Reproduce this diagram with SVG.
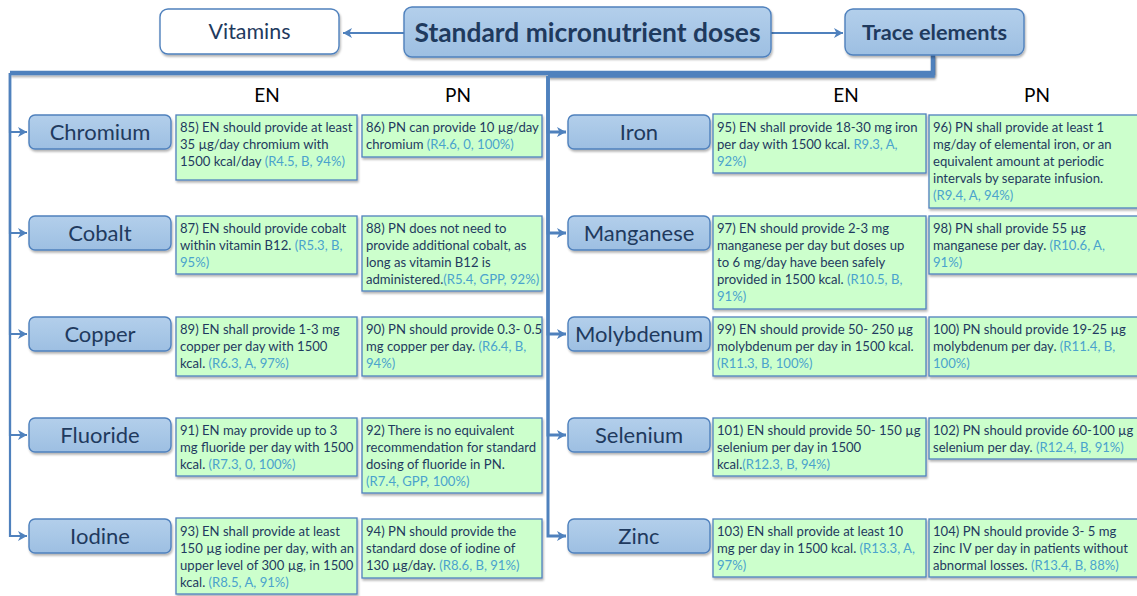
<svg xmlns="http://www.w3.org/2000/svg" width="1137" height="596" viewBox="0 0 1137 596">
<defs>
<style>
.el rect{fill:url(#gb);stroke:#4f81bd;stroke-width:1.4}
.el text{font-family:Lato,"Liberation Sans",sans-serif;font-size:22px;fill:#1f3a5e;text-anchor:middle}
.bx rect{fill:#ccffcc;stroke:#4f81bd;stroke-width:1.3}
.bx text{font-family:Lato,"Liberation Sans",sans-serif;font-size:13.1px;fill:#1f3a5f}
.c{fill:#4aa3cc}
.hd{font-family:Lato,"Liberation Sans",sans-serif;font-size:19px;fill:#000;text-anchor:middle}
.cn path{fill:none;stroke:#4f81bd;stroke-width:2.2}
.top text{font-family:Lato,"Liberation Sans",sans-serif;fill:#1f3a5e;text-anchor:middle}
</style>
<linearGradient id="gb" x1="0" y1="0" x2="0" y2="1">
<stop offset="0" stop-color="#b3cfeb"/>
<stop offset="1" stop-color="#9dbfe2"/>
</linearGradient>
<filter id="sh" x="-10%" y="-10%" width="125%" height="140%">
<feDropShadow dx="1" dy="2" stdDeviation="1.2" flood-color="#000" flood-opacity="0.3"/>
</filter>
<marker id="ar" markerUnits="userSpaceOnUse" markerWidth="12" markerHeight="12" refX="9" refY="5" orient="auto">
<path d="M0,0 L9,5 L0,10 L2.5,5 z" fill="#4f81bd"/>
</marker>
</defs>
<rect width="1137" height="596" fill="#fff"/>

<!-- connectors -->
<g id="connectors" class="cn">
<path d="M404,33 H343" marker-end="url(#ar)"/>
<path d="M771,33 H843" marker-end="url(#ar)"/>
<path d="M933,55 V73 H10" style="stroke-width:4.5" filter="url(#sh)"/>
<path d="M933,55 V76 H548" style="stroke-width:3.5" filter="url(#sh)"/>
<path d="M10,73 V132 H27" marker-end="url(#ar)"/>
<path d="M10,73 V233 H27" marker-end="url(#ar)"/>
<path d="M10,73 V334 H27" marker-end="url(#ar)"/>
<path d="M10,73 V435 H27" marker-end="url(#ar)"/>
<path d="M10,73 V536 H27" marker-end="url(#ar)"/>
<path d="M548,76 V132 H566" style="stroke-width:3" marker-end="url(#ar)"/>
<path d="M548,76 V233 H566" style="stroke-width:3" marker-end="url(#ar)"/>
<path d="M548,76 V334 H566" style="stroke-width:3" marker-end="url(#ar)"/>
<path d="M548,76 V435 H566" style="stroke-width:3" marker-end="url(#ar)"/>
<path d="M548,76 V536 H566" style="stroke-width:3" marker-end="url(#ar)"/>
</g>

<!-- top nodes -->
<g id="vitamins" class="top">
<rect x="160" y="9" width="179" height="45" rx="8" fill="#fff" stroke="#4f81bd" stroke-width="1.4" filter="url(#sh)"/>
<text x="249.5" y="39" font-size="21" textLength="82" lengthAdjust="spacingAndGlyphs">Vitamins</text>
</g>
<g id="standard" class="top">
<rect x="404" y="7" width="367" height="50" rx="8" fill="url(#gb)" stroke="#4f81bd" stroke-width="1.4" filter="url(#sh)"/>
<text x="587.5" y="42" font-size="27" font-weight="bold" textLength="346" lengthAdjust="spacingAndGlyphs">Standard micronutrient doses</text>
</g>
<g id="trace" class="top">
<rect x="845" y="9" width="179" height="46" rx="8" fill="url(#gb)" stroke="#4f81bd" stroke-width="1.4" filter="url(#sh)"/>
<text x="934.5" y="39.5" font-size="21" font-weight="bold" textLength="145" lengthAdjust="spacingAndGlyphs">Trace elements</text>
</g>

<!-- headers -->
<g id="headers">
<text class="hd" x="267" y="102">EN</text>
<text class="hd" x="458" y="102">PN</text>
<text class="hd" x="846" y="102">EN</text>
<text class="hd" x="1037" y="102">PN</text>
</g>

<!-- element nodes -->
<g id="chromium" class="el"><rect x="29" y="115" width="142" height="34" rx="6" filter="url(#sh)"/><text x="100" y="140">Chromium</text></g>
<g id="cobalt" class="el"><rect x="29" y="216" width="142" height="34" rx="6" filter="url(#sh)"/><text x="100" y="241">Cobalt</text></g>
<g id="copper" class="el"><rect x="29" y="317" width="142" height="34" rx="6" filter="url(#sh)"/><text x="100" y="342">Copper</text></g>
<g id="fluoride" class="el"><rect x="29" y="418" width="142" height="34" rx="6" filter="url(#sh)"/><text x="100" y="443">Fluoride</text></g>
<g id="iodine" class="el"><rect x="29" y="519" width="142" height="34" rx="6" filter="url(#sh)"/><text x="100" y="544">Iodine</text></g>
<g id="iron" class="el"><rect x="568" y="115" width="142" height="34" rx="6" filter="url(#sh)"/><text x="639" y="140">Iron</text></g>
<g id="manganese" class="el"><rect x="568" y="216" width="142" height="34" rx="6" filter="url(#sh)"/><text x="639" y="241">Manganese</text></g>
<g id="molybdenum" class="el"><rect x="568" y="317" width="142" height="34" rx="6" filter="url(#sh)"/><text x="639" y="342">Molybdenum</text></g>
<g id="selenium" class="el"><rect x="568" y="418" width="142" height="34" rx="6" filter="url(#sh)"/><text x="639" y="443">Selenium</text></g>
<g id="zinc" class="el"><rect x="568" y="519" width="142" height="34" rx="6" filter="url(#sh)"/><text x="639" y="544">Zinc</text></g>

<!-- recommendation boxes -->
<g id="r85" class="bx"><rect x="176" y="115" width="181" height="65" filter="url(#sh)"/>
<text><tspan x="180" y="132">85) EN should provide at least</tspan><tspan x="180" y="149">35 µg/day chromium with</tspan><tspan x="180" y="166">1500 kcal/day <tspan class="c">(R4.5, B, 94%)</tspan></tspan></text></g>
<g id="r86" class="bx"><rect x="362" y="115" width="180" height="42" filter="url(#sh)"/>
<text><tspan x="366" y="132">86) PN can provide 10 µg/day</tspan><tspan x="366" y="149">chromium  <tspan class="c">(R4.6, 0, 100%)</tspan></tspan></text></g>
<g id="r87" class="bx"><rect x="176" y="216" width="181" height="58" filter="url(#sh)"/>
<text><tspan x="180" y="233">87) EN should provide cobalt</tspan><tspan x="180" y="250">within vitamin B12. <tspan class="c">(R5.3, B,</tspan></tspan><tspan x="180" y="267" class="c">95%)</tspan></text></g>
<g id="r88" class="bx"><rect x="362" y="216" width="180" height="75" filter="url(#sh)"/>
<text><tspan x="366" y="233">88) PN does not need to</tspan><tspan x="366" y="250">provide additional cobalt, as</tspan><tspan x="366" y="267">long as vitamin B12 is</tspan><tspan x="366" y="284">administered.<tspan class="c">(R5.4, GPP, 92%)</tspan></tspan></text></g>
<g id="r89" class="bx"><rect x="176" y="317" width="181" height="59" filter="url(#sh)"/>
<text><tspan x="180" y="334">89) EN shall provide 1-3 mg</tspan><tspan x="180" y="351">copper per day with 1500</tspan><tspan x="180" y="368">kcal. <tspan class="c">(R6.3, A, 97%)</tspan></tspan></text></g>
<g id="r90" class="bx"><rect x="362" y="317" width="180" height="59" filter="url(#sh)"/>
<text><tspan x="366" y="334">90) PN should provide 0.3- 0.5</tspan><tspan x="366" y="351">mg copper per day. <tspan class="c">(R6.4, B,</tspan></tspan><tspan x="366" y="368" class="c">94%)</tspan></text></g>
<g id="r91" class="bx"><rect x="176" y="418" width="181" height="58" filter="url(#sh)"/>
<text><tspan x="180" y="435">91) EN may provide up to 3</tspan><tspan x="180" y="452">mg fluoride per day with 1500</tspan><tspan x="180" y="469">kcal. <tspan class="c">(R7.3, 0, 100%)</tspan></tspan></text></g>
<g id="r92" class="bx"><rect x="362" y="418" width="180" height="75" filter="url(#sh)"/>
<text><tspan x="366" y="435">92) There is no equivalent</tspan><tspan x="366" y="452">recommendation for standard</tspan><tspan x="366" y="469">dosing of fluoride in PN.</tspan><tspan x="366" y="486" class="c">(R7.4, GPP, 100%)</tspan></text></g>
<g id="r93" class="bx"><rect x="176" y="518" width="181" height="76" filter="url(#sh)"/>
<text><tspan x="180" y="536">93) EN shall provide at least</tspan><tspan x="180" y="553">150 µg iodine per day, with an</tspan><tspan x="180" y="570">upper level of 300 µg, in 1500</tspan><tspan x="180" y="587">kcal. <tspan class="c">(R8.5, A, 91%)</tspan></tspan></text></g>
<g id="r94" class="bx"><rect x="362" y="519" width="180" height="59" filter="url(#sh)"/>
<text><tspan x="366" y="536">94) PN should provide the</tspan><tspan x="366" y="553">standard dose of iodine of</tspan><tspan x="366" y="570">130 µg/day. <tspan class="c">(R8.6, B, 91%)</tspan></tspan></text></g>

<g id="r95" class="bx"><rect x="713" y="114" width="213" height="59" filter="url(#sh)"/>
<text><tspan x="717" y="132">95) EN shall provide 18-30 mg iron</tspan><tspan x="717" y="149">per day with 1500 kcal. <tspan class="c">R9.3, A,</tspan></tspan><tspan x="717" y="166" class="c">92%)</tspan></text></g>
<g id="r96" class="bx"><rect x="929" y="115" width="220" height="93" filter="url(#sh)"/>
<text><tspan x="933" y="132">96) PN shall provide at least 1</tspan><tspan x="933" y="149">mg/day of elemental iron, or an</tspan><tspan x="933" y="166">equivalent amount at periodic</tspan><tspan x="933" y="183">intervals by separate infusion.</tspan><tspan x="933" y="200" class="c">(R9.4, A, 94%)</tspan></text></g>
<g id="r97" class="bx"><rect x="713" y="216" width="213" height="93" filter="url(#sh)"/>
<text><tspan x="717" y="233">97) EN should provide 2-3 mg</tspan><tspan x="717" y="250">manganese per day but doses up</tspan><tspan x="717" y="267">to 6 mg/day have been safely</tspan><tspan x="717" y="284">provided in 1500 kcal. <tspan class="c">(R10.5, B,</tspan></tspan><tspan x="717" y="301" class="c">91%)</tspan></text></g>
<g id="r98" class="bx"><rect x="929" y="216" width="220" height="58" filter="url(#sh)"/>
<text><tspan x="933" y="233">98) PN shall provide 55 µg</tspan><tspan x="933" y="250">manganese per day. <tspan class="c">(R10.6, A,</tspan></tspan><tspan x="933" y="267" class="c">91%)</tspan></text></g>
<g id="r99" class="bx"><rect x="713" y="317" width="213" height="59" filter="url(#sh)"/>
<text><tspan x="717" y="334">99) EN should provide 50- 250 µg</tspan><tspan x="717" y="351">molybdenum per day in 1500 kcal.</tspan><tspan x="717" y="368" class="c">(R11.3, B, 100%)</tspan></text></g>
<g id="r100" class="bx"><rect x="929" y="317" width="220" height="59" filter="url(#sh)"/>
<text><tspan x="933" y="334">100) PN should provide 19-25 µg</tspan><tspan x="933" y="351">molybdenum per day. <tspan class="c">(R11.4, B,</tspan></tspan><tspan x="933" y="368" class="c">100%)</tspan></text></g>
<g id="r101" class="bx"><rect x="713" y="418" width="213" height="58" filter="url(#sh)"/>
<text><tspan x="717" y="435">101) EN should provide 50- 150 µg</tspan><tspan x="717" y="452">selenium per day in 1500</tspan><tspan x="717" y="469">kcal.<tspan class="c">(R12.3, B, 94%)</tspan></tspan></text></g>
<g id="r102" class="bx"><rect x="929" y="418" width="220" height="41" filter="url(#sh)"/>
<text><tspan x="933" y="435">102) PN should provide 60-100 µg</tspan><tspan x="933" y="452">selenium per day. <tspan class="c">(R12.4, B, 91%)</tspan></tspan></text></g>
<g id="r103" class="bx"><rect x="713" y="519" width="213" height="58" filter="url(#sh)"/>
<text><tspan x="717" y="536">103) EN shall provide at least 10</tspan><tspan x="717" y="553">mg per day in 1500 kcal. <tspan class="c">(R13.3, A,</tspan></tspan><tspan x="717" y="570" class="c">97%)</tspan></text></g>
<g id="r104" class="bx"><rect x="929" y="519" width="220" height="58" filter="url(#sh)"/>
<text><tspan x="933" y="536">104) PN should provide 3- 5 mg</tspan><tspan x="933" y="553">zinc IV per day in patients without</tspan><tspan x="933" y="570">abnormal losses. <tspan class="c">(R13.4, B, 88%)</tspan></tspan></text></g>
</svg>
